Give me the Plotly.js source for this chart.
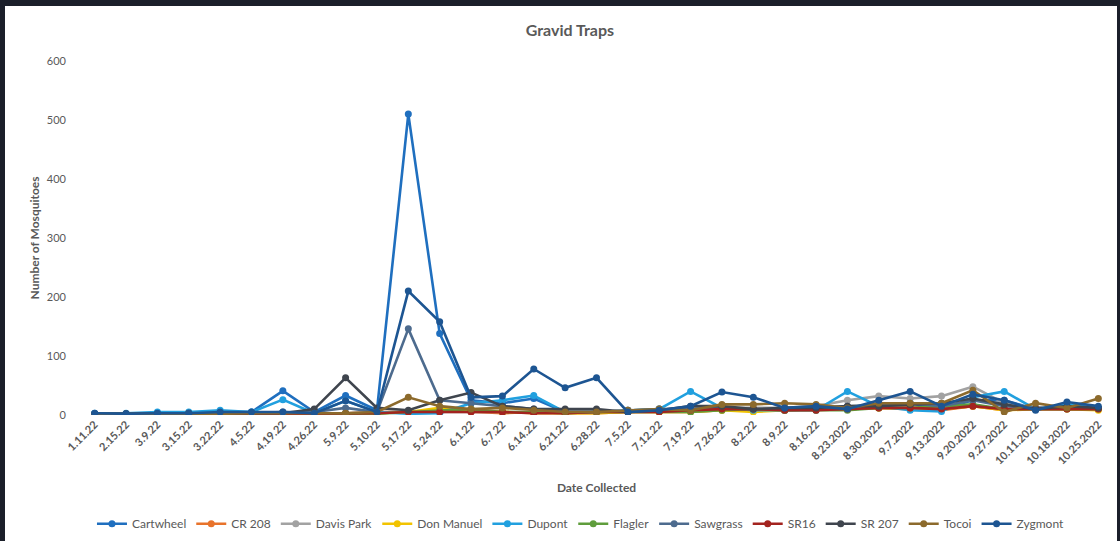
<!DOCTYPE html>
<html>
<head>
<meta charset="utf-8">
<script src="https://cdn.plot.ly/plotly-3.0.1.min.js"></script>
<style>
  html, body { margin: 0; padding: 0; background: #1b1f2a; width: 1120px; height: 541px; overflow: hidden; }
  #chart { position: absolute; left: 5px; top: 6px; width: 1112px; height: 535px; background: #ffffff; }
</style>
</head>
<body>
<div id="chart"></div>
<script>
const dates = ['1.11.22','2.15.22','3.9.22','3.15.22','3.22.22','4.5.22','4.19.22','4.26.22','5.9.22','5.10.22','5.17.22','5.24.22','6.1.22','6.7.22','6.14.22','6.21.22','6.28.22','7.5.22','7.12.22','7.19.22','7.26.22','8.2.22','8.9.22','8.16.22','8.23.2022','8.30.2022','9.7.2022','9.13.2022','9.20.2022','9.27.2022','10.11.2022','10.18.2022','10.25.2022'];

const cartwheel = [2,2,2,3,5,5,41,5,33,8,510,138,25,20,28,5,5,5,8,10,12,8,8,10,12,15,20,10,25,25,10,15,12];
const cr208     = [1,1,1,1,2,2,3,3,3,5,5,8,5,3,5,3,3,5,5,5,8,10,8,10,10,12,10,8,15,8,12,10,12];
const davisPark = [1,1,2,2,2,3,3,3,3,5,5,5,5,5,5,5,5,8,10,10,12,12,12,15,25,32,28,32,48,20,12,12,10];
const donManuel = [0,0,1,1,1,2,2,2,2,3,5,12,8,5,3,3,3,5,5,5,8,5,8,10,10,12,12,10,15,8,10,10,8];
const dupont    = [3,3,5,5,8,5,26,3,24,5,2,3,20,25,33,5,5,8,10,40,12,8,8,8,40,15,8,6,30,40,10,18,12];
const flagler   = [0,0,1,1,1,2,2,2,3,2,5,8,10,5,5,3,5,5,5,5,8,10,8,8,8,12,12,15,18,10,10,10,10];
const sawgrass  = [2,2,2,3,3,3,5,5,12,5,146,25,20,15,10,5,5,8,10,10,12,10,10,12,15,18,20,15,25,15,12,12,12];
const sr16      = [0,0,1,1,1,1,2,2,2,3,5,5,5,5,3,3,5,5,5,8,10,10,8,8,10,12,12,10,15,10,10,10,10];
const sr207     = [2,2,2,3,3,3,3,10,63,12,8,25,38,15,10,10,10,5,8,15,15,10,12,12,15,15,18,20,28,18,10,15,12];
const tocoi     = [1,1,1,2,2,3,3,3,3,5,30,15,10,12,8,5,5,8,10,8,18,18,20,18,12,20,20,20,42,5,20,12,28];
const zygmont   = [3,2,3,3,5,5,5,3,24,5,210,158,30,32,78,46,63,5,8,15,39,30,12,15,10,25,40,15,35,25,8,22,15];

const seriesNames = ['Cartwheel','CR 208','Davis Park','Don Manuel','Dupont','Flagler','Sawgrass','SR16','SR 207','Tocoi','Zygmont'];
const seriesValues = [cartwheel, cr208, davisPark, donManuel, dupont, flagler, sawgrass, sr16, sr207, tocoi, zygmont];
const seriesColors = ['#1f6fbf','#e8732b','#a2a2a2','#f2c300','#21a0df','#5f9d3c','#4d6b8e','#a3231f','#3f454e','#8c6a2c','#1d5592'];

const traces = seriesNames.map((n, i) => ({
  type: 'scatter',
  mode: 'lines+markers',
  name: n,
  x: dates,
  y: seriesValues[i],
  line: { color: seriesColors[i], width: 2.6 },
  marker: { color: seriesColors[i], size: 7, symbol: 'circle' }
}));

const fontFam = 'Lato, "Open Sans", sans-serif';
const layout = {
  width: 1112,
  height: 535,
  margin: { l: 74, r: 3, t: 55, b: 122 },
  paper_bgcolor: '#ffffff',
  plot_bgcolor: '#ffffff',
  font: { family: fontFam, color: '#595959', size: 11 },
  title: {
    text: '<b>Gravid Traps</b>',
    font: { family: fontFam, size: 16, color: '#595959' },
    x: 0.508, xanchor: 'center', y: 0.955, yanchor: 'middle'
  },
  showlegend: true,
  legend: {
    orientation: 'h',
    x: 0.485, xanchor: 'center',
    y: -0.307, yanchor: 'middle',
    font: { family: fontFam, size: 12, color: '#595959' },
    itemwidth: 30,
    traceorder: 'normal'
  },
  xaxis: {
    type: 'category',
    range: [-0.5, dates.length - 0.5],
    tickangle: -45,
    showgrid: false,
    zeroline: false,
    showline: false,
    ticks: '',
    tickfont: { family: fontFam, size: 11, color: '#595959', weight: 'bold' },
    title: { text: '<b>Date Collected</b>', font: { family: fontFam, size: 12, color: '#595959' }, standoff: 17 },
    automargin: false
  },
  yaxis: {
    range: [0, 600],
    dtick: 100,
    showgrid: false,
    zeroline: false,
    showline: false,
    ticks: '',
    ticklabelstandoff: 12,
    tickfont: { family: fontFam, size: 11, color: '#595959' },
    title: { text: '<b>Number of Mosquitoes</b>', font: { family: fontFam, size: 12, color: '#595959' }, standoff: 4 },
    automargin: false
  }
};

Plotly.newPlot('chart', traces, layout, { displayModeBar: false, staticPlot: true });
</script>
</body>
</html>
